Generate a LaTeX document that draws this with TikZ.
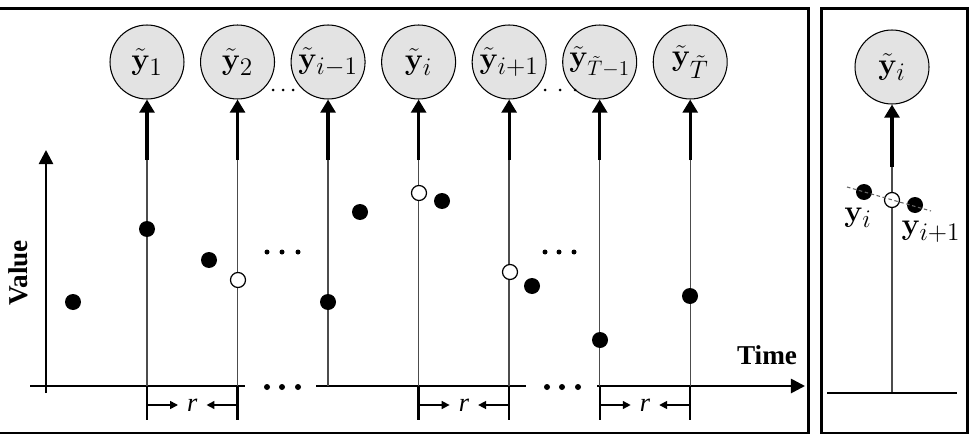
\documentclass[tikz,border=0pt]{standalone}
\usepackage[no-math]{fontspec}
\setmainfont{Liberation Serif}
\usepackage{amsmath}
\usetikzlibrary{arrows.meta, positioning, calc}
\tikzset{
    frame/.style={draw=black, line width=1.7pt},
    obs/.style={circle, draw=black, semithick, fill=gray!22, minimum size=1.48cm, inner sep=0pt, font=\fontsize{19}{22}\selectfont},
    stem/.style={draw=black!70, line width=0.8pt},
    feed/.style={draw=black, line width=1.8pt, -{Triangle[length=7.5pt, width=8.5pt]}},
    axis/.style={draw=black, line width=1.5pt},
    tick/.style={draw=black, line width=1.3pt},
    gap/.style={draw=black, line width=0.9pt, shorten >=1pt, -{Triangle[length=4.5pt, width=4.5pt]}},
    obspt/.style={circle, fill=black, minimum size=0.32cm, inner sep=0pt},
    estpt/.style={circle, draw=black, fill=white, line width=0.7pt, minimum size=0.3cm, inner sep=0pt},
    lbl/.style={font=\fontsize{15.5}{18}\selectfont\bfseries},
    rlbl/.style={font=\fontsize{15}{18}\selectfont\itshape, inner sep=4pt},
    mlbl/.style={font=\fontsize{19}{22}\selectfont, inner sep=1pt}
}

\begin{document}
\begin{tikzpicture}[x=0.02cm, y=-0.02cm]
    \useasboundingbox (0,0) rectangle (976,446);
    \draw[frame] (-3,8.5) rectangle (808,433);
    \draw[frame] (821,8.5) rectangle (967,433);

    % resampled series
    \node [obs] (y1) at (147,62) {$\tilde{\mathbf{y}}_1$};
    \node [obs, right=0.31cm of y1] (y2) {$\tilde{\mathbf{y}}_2$};
    \node [obs, right=0.31cm of y2] (yim1) {$\tilde{\mathbf{y}}_{i-1}$};
    \node [obs, right=0.31cm of yim1] (yi) {$\tilde{\mathbf{y}}_i$};
    \node [obs, right=0.31cm of yi] (yip1) {$\tilde{\mathbf{y}}_{i+1}$};
    \node [obs, right=0.31cm of yip1, font=\fontsize{18}{21}\selectfont] (yTm1) {$\tilde{\mathbf{y}}_{\tilde{T}-1}$};
    \node [obs, right=0.31cm of yTm1] (yT) {$\tilde{\mathbf{y}}_{\tilde{T}}$};

    \coordinate (origin) at (46,386);
    \coordinate (split) at (46,160);
    \coordinate (ticktip) at (46,420);
    \coordinate (rrow) at (46,405);

    % axes
    \draw[axis, -{Triangle[length=8pt, width=8pt]}] (origin |- 0,393) -- (origin |- 0,150);
    \draw[axis] (30,386) -- (245,386);
    \draw[axis] (316,386) -- (526,386);
    \draw[axis, -{Triangle[length=8pt, width=8pt]}] (597,386) -- (805,386);
    \node [lbl, rotate=90] (value) at (18,273) {Value};
    \node [lbl] (time) at (767,355) {Time};

    \foreach \n in {y1, y2, yim1, yi, yip1, yTm1, yT} {
        \draw[stem] (\n |- origin) -- (\n |- split);
        \draw[feed] (\n |- split) -- (\n);
    }
    \foreach \n in {y1, y2, yi, yip1, yTm1, yT}
        \draw[tick] (\n |- origin) -- (\n |- ticktip);
    \foreach \a/\b/\k in {y1/y2/1, yi/yip1/2, yTm1/yT/3} {
        \node [rlbl] (r\k) at ($(\a |- rrow)!0.5!(\b |- rrow)$) {r};
        \draw[gap] (\a |- rrow) -- (r\k.west);
        \draw[gap] (\b |- rrow) -- (r\k.east);
    }

    % gaps in the series
    \foreach \x in {273, 283, 293} \fill (\x,90) circle (0.03cm);
    \foreach \x in {545, 560, 575} \fill (\x,90) circle (0.03cm);
    \foreach \x in {267, 282, 298} \fill (\x,252) circle (0.05cm);
    \foreach \x in {545, 559, 574} \fill (\x,252) circle (0.05cm);
    \foreach \x in {267, 282, 298} \fill (\x,387) circle (0.06cm);
    \foreach \x in {547, 562, 578} \fill (\x,387) circle (0.06cm);

    % raw observations and interpolated values
    \node [obspt] (p1) at (73,302) {};
    \node [obspt] (p2) at (147,229) {};
    \node [obspt] (p3) at (209,260) {};
    \node [estpt] (e1) at (238,280) {};
    \node [obspt] (p4) at (328,302) {};
    \node [obspt] (p5) at (360,212) {};
    \node [estpt] (e2) at (419,193) {};
    \node [obspt] (p6) at (442,201) {};
    \node [estpt] (e3) at (510,272) {};
    \node [obspt] (p7) at (532,286) {};
    \node [obspt] (p8) at (600,340) {};
    \node [obspt] (p9) at (690,296) {};

    % single step, close up
    \node [obs] (yr) at (892,67) {$\tilde{\mathbf{y}}_i$};
    \coordinate (rbase) at (892,393);
    \coordinate (rsplit) at (892,167);
    \draw[stem] (rbase) -- (rsplit);
    \draw[feed] (rsplit) -- (yr);
    \draw[axis] (827,393) -- (957,393);
    \node [obspt] (q1) at (864,192) {};
    \node [estpt] (q0) at (892,200) {};
    \node [obspt] (q2) at (915,205) {};
    \coordinate (dl1) at (847,187);
    \coordinate (dl2) at (931,211);
    \draw[black!60, line width=0.6pt, dash pattern=on 2pt off 1.5pt] (dl1) -- (dl2);
    \node [mlbl] (lq1) at (858,218) {$\mathbf{y}_i$};
    \node [mlbl] (lq2) at (931,232) {$\mathbf{y}_{i+1}$};
\end{tikzpicture}
\end{document}
